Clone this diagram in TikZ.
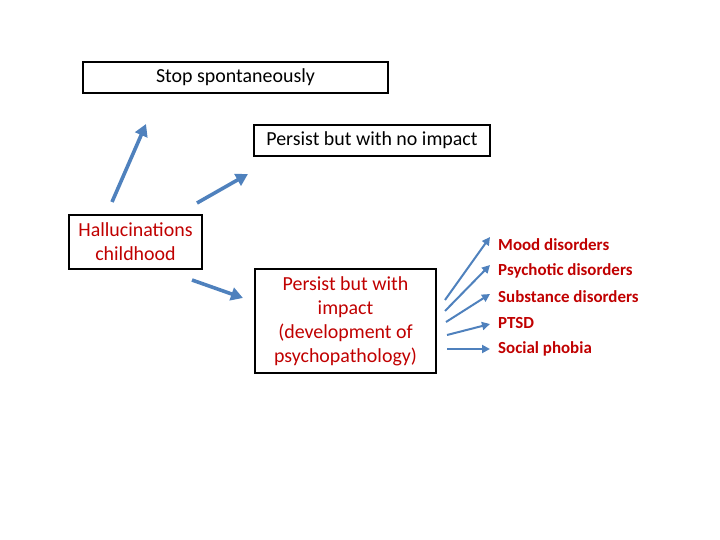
\documentclass[tikz,border=0pt]{standalone}
\usepackage{fontspec}
\setmainfont{Carlito}
\usetikzlibrary{arrows.meta}
\definecolor{darkred}{RGB}{192,0,0}
\definecolor{arrowblue}{RGB}{79,129,189}
\begin{document}
\begin{tikzpicture}[
        x=1bp, y=-1bp,
        box/.style={draw, line width=1.6bp, inner sep=0pt, align=center, font=\fontsize{20}{24}\selectfont},
        redbox/.style={box, text=darkred},
        outcome/.style={anchor=west, text=darkred, font=\fontsize{17}{20}\selectfont\bfseries, inner sep=0pt},
        bigarrow/.style={draw=arrowblue, line width=3.6bp, -{Triangle[length=12bp, width=13bp]}},
        smallarrow/.style={draw=arrowblue, line width=2bp, -{Triangle[length=8bp, width=8bp]}}
    ]
    \useasboundingbox (0,0) rectangle (720,540);

    % Outcome boxes
    \node[box, minimum width=305bp, minimum height=31bp] (stop) at (235.5,77.5) {Stop spontaneously};
    \node[box, minimum width=236bp, minimum height=31bp] (noimpact) at (372,140.5) {Persist but with no impact};
    \node[redbox, minimum width=133bp, minimum height=54bp] (halluc) at (135.5,242) {Hallucinations\\childhood};
    \node[redbox, minimum width=181bp, minimum height=104bp] (impact) at (345.5,321) {Persist but with\\impact\\(development of\\psychopathology)};

    % Disorders
    \node[outcome] (mood) at (498,245) {Mood disorders};
    \node[outcome] (psych) at (498,271) {Psychotic disorders};
    \node[outcome] (subst) at (498,297) {Substance disorders};
    \node[outcome] (ptsd) at (498,323) {PTSD};
    \node[outcome] (phobia) at (498,349) {Social phobia};

    % Arrow ends
    \coordinate (a1) at (112,202);
    \coordinate (b1) at (146,124);
    \coordinate (a2) at (197,203);
    \coordinate (b2) at (248,174);
    \coordinate (a3) at (192,280);
    \coordinate (b3) at (243,298);
    \draw[bigarrow] (a1) -- (b1);
    \draw[bigarrow] (a2) -- (b2);
    \draw[bigarrow] (a3) -- (b3);

    \coordinate (m) at (445,300);
    \coordinate (p) at (445,311);
    \coordinate (s) at (446,322);
    \coordinate (t) at (447,335);
    \coordinate (f) at (447,349);
    \draw[smallarrow] (m) -- ([xshift=-8bp, yshift=8bp]mood.west);
    \draw[smallarrow] (p) -- ([xshift=-8bp, yshift=6bp]psych.west);
    \draw[smallarrow] (s) -- ([xshift=-8bp, yshift=3bp]subst.west);
    \draw[smallarrow] (t) -- ([xshift=-8bp, yshift=-1bp]ptsd.west);
    \draw[smallarrow] (f) -- ([xshift=-8bp]phobia.west);
\end{tikzpicture}
\end{document}
